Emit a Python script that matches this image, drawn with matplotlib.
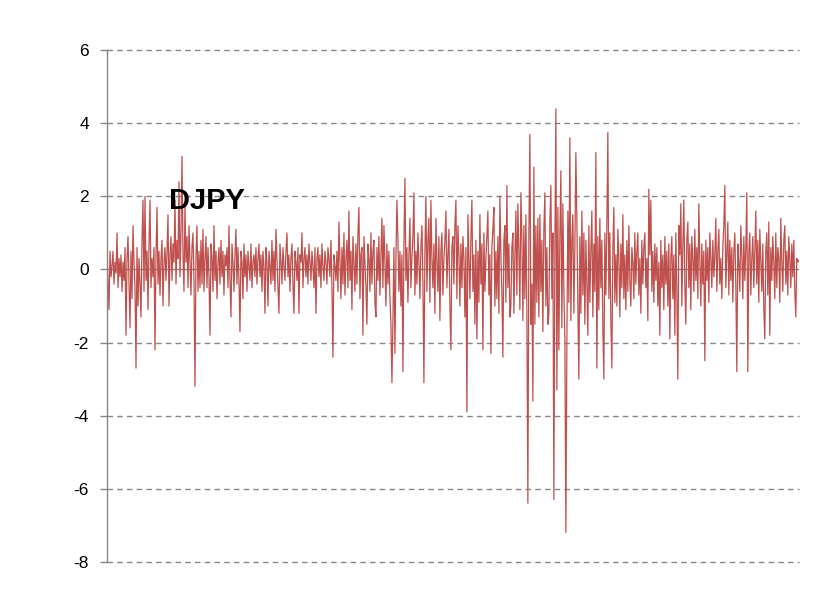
import numpy as np
import matplotlib
matplotlib.use('Agg')
import matplotlib.pyplot as plt

# daily returns, split in chunks left to right
early = [0.4, -0.3, -1.1, 0.5, -0.2, 0.1, 0.5, -0.4, 0.2, -0.1,
         1.0, -0.5, 0.3, -0.2, 0.4, -0.6, 0.2, -0.3, 0.6, -1.8,
         0.3, 0.9, -0.4, -1.6, 0.5, -0.8, 1.2, 0.2, -0.5, -2.7,
         0.6, -1.0, 0.3, -0.4, -1.3, 0.8, 1.9, -0.6, 2.0, -0.3,
         0.5, -1.1, 0.7, 1.9, -0.5, 0.3, -0.2, 0.6, -2.2, 0.4,
         1.7, -0.4, 0.5, -0.7, 0.3, 0.8, -1.0, 0.2, 0.6, -0.3,
         0.5, 1.5, -1.0, 0.4, 0.9, -0.3, 0.7, 0.2, 1.9, -0.4,
         0.8, 0.3, 2.4, -0.2, 1.0, 3.1, 0.4, -0.6, 1.8, 0.2,
         0.9, -0.5, 1.2, 0.3, -0.7, 0.6, 1.0, -0.3, -3.2, 0.4,
         1.2, -0.6, 0.5, -0.5, 0.8, -0.4, 1.1, -0.6, 0.3, 0.9,
         -0.5, 0.6, -0.2, -1.8, 0.7, 0.3, -0.6, 1.2, -0.3, 0.5,
         -0.8, 0.2, 0.6, -0.4, 0.8, -0.2, 0.5, -0.7, 0.4, 0.1,
         0.6, -0.5, 1.2, -0.3, -1.3, 0.7, 0.2, -0.6, 0.4, 1.1,
         -0.4, 0.6, -0.3, -1.7, 0.5, 0.2, -0.8, 0.7, -0.2, 0.4]

calm = [-0.6, 0.5, 0.1, -0.3, 0.7, -0.5, 0.2, 0.4, -0.2, 0.6,
        -0.4, 0.3, 0.7, -0.2, 0.4, -0.6, 0.5, 0.1, -1.2, 0.6,
        0.2, -1.0, 0.5, 0.1, -0.4, 0.8, -0.3, 0.5, -0.6, 1.1,
        0.3, -0.5, -1.2, 0.7, 0.2, -0.4, 0.6, 0.1, -0.3, 0.5,
        1.0, -0.2, 0.4, -0.6, 0.3, 0.7, -0.4, -1.2, 0.5, 0.2,
        -0.3, 0.6, -1.2, 0.4, 0.2, 1.0, -0.5, 0.3, 0.6, -0.2,
        0.4, -0.4, 0.7, 0.2, -0.3, 0.5, 0.1, -0.5, 0.6, -1.2,
        0.3, 0.6, -0.2, 0.4, -0.5, 0.7, 0.1, -0.3, 0.5, 0.2,
        -0.4, 0.6, 0.3, -0.2, 0.8, -0.5, -2.4, 0.4, 0.1, -0.3,
        0.5, -0.6, 1.3, 0.2, -0.8, 0.6, -0.4, 1.0, -0.7, 0.3,
        0.8, -0.5, 1.6, -0.3, 0.5, -1.1, 0.9, 0.2, -0.6, 0.7,
        -0.4, 1.0, 1.7, -0.8, 0.4, 0.6, -1.8, 0.9, 0.2, -0.5,
        -1.5, 0.7, 0.3, -0.6, 1.0, -0.4, 0.5, 0.8, -0.9, -1.3,
        0.6, -0.3, 0.9, -0.7, 0.4, 1.4, -0.5, 1.2, 0.2, -1.0]

busy = [0.7, -0.4, 0.5, -0.8, -1.5, -3.1, -1.4, 0.6, -2.3, 0.3,
        1.9, 0.8, -0.6, 0.5, -1.0, 0.4, -2.8, 0.7, 2.5, -0.3,
        0.6, -0.9, 0.4, 1.4, -0.5, 0.3, 0.9, 2.1, -0.7, 0.5,
        -0.4, 1.0, 0.2, -0.8, 0.6, 1.2, -0.3, -3.1, 0.5, 2.0,
        -0.6, 0.8, 1.4, -0.9, 1.9, 0.3, -0.5, 0.7, -1.2, 1.4,
        0.2, -0.6, 0.9, -1.4, 0.5, 1.0, -0.7, 0.3, 0.8, 1.6,
        -0.5, 0.4, 1.1, -1.0, -2.2, 0.6, 0.9, -0.4, 1.2, 1.9,
        -0.8, 1.2, 0.4, -1.0, 0.7, -0.5, 0.9, 0.3, -1.3, 0.6,
        -3.9, 1.5, 0.3, -0.8, 0.9, 1.9, -0.6, 0.4, -1.5, 0.8,
        -1.9, 0.5, -0.9, 1.5, -0.4, 0.7, -2.2, 1.0, -0.6, 0.3,
        0.9, 1.6, -0.7, 0.4, -2.3, 0.6, 1.1, 1.7, -1.0, 0.5,
        -0.8, 0.9, -1.2, 2.0, 0.4, -0.6, -2.4, 0.8, 1.2, -0.9,
        2.3, -0.5, 0.7, -1.3, -1.0, 0.6, 1.0, -1.2, 0.4, 1.6,
        -0.7, 1.8, 0.5, -1.1, 2.1, 0.9, -1.4, 1.2, -0.8, 1.5]

crisis = [-1.2, -6.4, 1.0, 3.7, -1.5, -0.4, -3.6, 2.8, -1.5, 1.2,
          -0.9, 1.4, -1.3, 1.5, -0.6, 0.8, -1.7, 1.1, 2.1, -1.0,
          0.6, -1.5, -1.2, 1.3, 2.3, -0.8, 1.0, -6.3, 0.5, 4.4,
          -3.3, 1.7, -2.2, 0.9, 2.7, -1.6, 1.8, -0.6, -1.9, -7.2,
          -2.0, 1.6, -0.9, 3.6, -1.4, 0.8, 1.5, -1.2, 0.6, 3.2,
          1.4, -1.0, -3.0, 0.9, -1.2, 1.6, -0.7, 1.0, -1.5, 0.8,
          -0.4, -1.8, 1.2, -0.9, 0.5, 1.6, -1.3, 0.7, -0.6, 3.2,
          -2.7, 0.9, -1.1, 1.4, -0.5, 0.8, -1.6, -3.0, 1.0, -0.7,
          1.2, 3.75, -0.8, 1.0, -1.4, -2.7, 0.6, 1.7, -0.9, 0.4]

late = [-1.0, 1.1, 0.3, -1.3, 0.7, -0.5, 1.5, -0.8, 0.4, -1.1,
        0.8, -0.6, 1.2, -0.3, -1.0, 0.6, 0.2, -0.8, 1.0, -0.4,
        0.5, 1.0, -0.7, 0.3, -1.2, 0.8, -0.4, 0.6, 1.0, -0.5,
        0.3, -1.4, 2.2, 0.4, 1.9, -0.6, 0.5, -0.9, 0.7, -0.3,
        0.6, -1.0, 0.2, -1.8, 0.8, -0.5, 0.4, -1.1, 0.9, -0.4,
        0.5, -1.0, 0.7, -1.9, 0.3, 0.9, -0.8, 0.4, -1.8, 1.0,
        -0.6, -3.0, 1.2, 0.4, 1.8, -1.0, 0.6, 1.9, -0.4, -1.5,
        0.8, 1.3, -0.5, 0.7, -1.1, 0.9, 0.3, -0.6, 1.1, -0.3,
        0.6, -0.8, 1.8, 0.2, -1.0, 0.7, -0.4, 0.5, -2.5, 0.8,
        -0.3, 0.6, -0.9, 1.0, 0.3, -0.5, 0.8, -0.2, 0.4, 1.4,
        -0.6, 0.5, 1.1, -0.4, 0.3, -0.8, 0.6, 1.2, 2.3, -0.5,
        0.4, 1.3, -0.7, 0.8, -0.3, 0.6, -0.9, 0.5, 1.0, -0.4,
        -2.8, 0.7, 0.2, -0.6, 1.2, 0.4, -0.8, 0.9, -0.3, 0.6,
        2.1, -2.8, 0.5, 1.0, -0.7, 0.3, 0.9, -0.5, 0.6, 1.6,
        -0.4, 0.8, -0.9, 1.1, 0.2, -0.6, 0.7, -1.1, -1.9, 0.5,
        1.0, -0.7, 1.3, -1.8, 0.6, -0.3, 0.9, 0.2, -0.8, 1.0,
        -0.5, 0.6, 0.3, -0.9, 1.4, 0.2, -0.6, 0.8, 1.2, -0.4,
        0.5, -0.7, 0.9, 0.3, -0.5, 0.7, -0.2, 0.8, -0.6, -1.3,
        0.3, 0.2, 0.25]

y_ticks = [6, 4, 2, 0, -2, -4, -6, -8]
title = "DJPY"

vals = np.array(early + calm + busy + crisis + late)
x = np.arange(len(vals))

fig = plt.figure(figsize=(8.27, 5.90), dpi=100)
ax = fig.add_axes([0.1294, 0.048, 0.8365, 0.8667])

grey = '#878787'
for t in y_ticks:
    if t == 0:
        ax.axhline(0, color=grey, lw=1.0, zorder=1)
    else:
        ax.axhline(t, color=grey, lw=1.0, ls=(0, (4, 3)), zorder=1, clip_on=False)

ax.plot(x, vals, color='#C0504D', lw=0.9, zorder=2)

ax.set_xlim(0, len(vals) - 1)
ax.set_ylim(-8, 6)
ax.set_yticks(y_ticks)
ax.set_yticklabels([str(t) for t in y_ticks], fontsize=12.5, family='Liberation Sans')
ax.set_xticks([])
ax.tick_params(axis='y', length=5, width=1, color=grey, pad=8)

for s in ['top', 'right', 'bottom']:
    ax.spines[s].set_visible(False)
ax.spines['left'].set_color(grey)
ax.spines['left'].set_linewidth(1.0)

fig.text(169 / 827, 1 - 201 / 590, title, fontsize=21, fontweight='bold',
         family='Liberation Sans', va='center', ha='left')

fig.savefig('out.png', dpi=100)
